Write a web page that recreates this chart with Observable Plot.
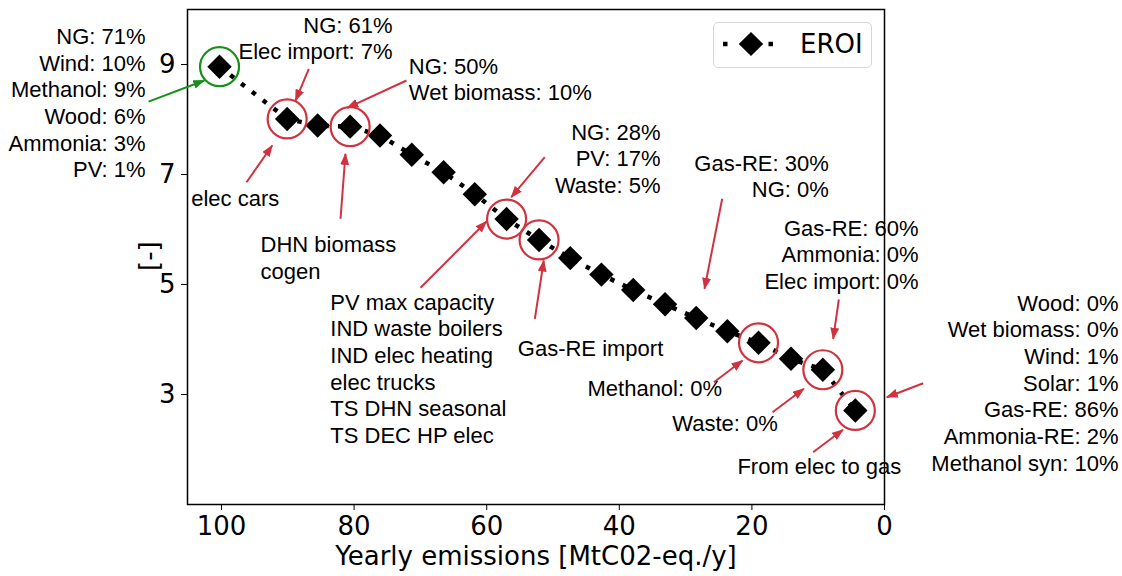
<!DOCTYPE html>
<html>
<head>
<meta charset="utf-8">
<script src="https://cdn.jsdelivr.net/npm/d3@7"></script>
<script src="https://cdn.jsdelivr.net/npm/@observablehq/plot@0.6"></script>
<style>
  html, body { margin: 0; padding: 0; background: #fff; overflow: hidden; }
  #chart { position: relative; width: 1122px; height: 576px; }
  .legend { position: absolute; left: 713px; top: 22px; width: 157px; height: 44px;
            border: 1px solid #d6d6d6; border-radius: 5px; background: rgba(255,255,255,0.85); }
  .legend svg { display: block; }
</style>
</head>
<body>
<div id="chart"></div>
<script>
// Yearly emissions (MtCO2-eq./y) and EROI for each optimisation step
const emissions = [100.3, 90.1, 85.5, 80.6, 76.1, 71.3, 66.5, 61.8, 57.0, 52.1,
                   47.4, 42.7, 37.9, 33.1, 28.4, 23.7, 19.0, 14.1, 9.3, 4.4];
const eroi = [8.96, 8.01, 7.89, 7.87, 7.71, 7.36, 7.04, 6.64, 6.19, 5.81,
              5.48, 5.18, 4.90, 4.64, 4.39, 4.15, 3.94, 3.65, 3.45, 2.71];

// Steps highlighted with a circle
const startStep = [0];
const highlightedSteps = [1, 3, 8, 9, 16, 18, 19];

// Axis ticks
const xTicks = [100, 80, 60, 40, 20, 0];
const yTicks = [3, 5, 7, 9];

// Annotation texts
const noteTexts = {
  start: "NG: 71%\nWind: 10%\nMethanol: 9%\nWood: 6%\nAmmonia: 3%\nPV: 1%",
  ng61: "NG: 61%\nElec import: 7%",
  ng50: "NG: 50%\nWet biomass: 10%",
  cars: "elec cars",
  dhn: "DHN biomass\ncogen",
  pvmax: "PV max capacity\nIND waste boilers\nIND elec heating\nelec trucks\nTS DHN seasonal\nTS DEC HP elec",
  ng28: "NG: 28%\nPV: 17%\nWaste: 5%",
  gasImport: "Gas-RE import",
  gas30: "Gas-RE: 30%\nNG: 0%",
  gas60: "Gas-RE: 60%\nAmmonia: 0%\nElec import: 0%",
  meth0: "Methanol: 0%",
  waste0: "Waste: 0%",
  elecGas: "From elec to gas",
  final: "Wood: 0%\nWet biomass: 0%\nWind: 1%\nSolar: 1%\nGas-RE: 86%\nAmmonia-RE: 2%\nMethanol syn: 10%"
};

// Annotation placement in data units (text anchor point and arrow tail/head)
const notesEnd = [
  {key: "start", x: 111.46, y: 8.315},
  {key: "ng61", x: 74.2, y: 9.491},
  {key: "ng28", x: 33.79, y: 7.304},
  {key: "gas30", x: 8.40, y: 6.982},
  {key: "gas60", x: -5.13, y: 5.558},
  {key: "final", x: -35.29, y: 3.224}
];
const notesStart = [
  {key: "ng50", x: 71.75, y: 8.749},
  {key: "cars", x: 104.57, y: 6.582},
  {key: "dhn", x: 94.12, y: 5.496},
  {key: "pvmax", x: 83.59, y: 3.485},
  {key: "gasImport", x: 55.31, y: 3.86},
  {key: "meth0", x: 44.80, y: 3.122},
  {key: "waste0", x: 32.02, y: 2.496},
  {key: "elecGas", x: 22.19, y: 1.709}
];
const greenArrows = [
  {x1: 111.0, y1: 8.325, x2: 102.6, y2: 8.71}
];
const redArrows = [
  {x1: 86.83, y1: 8.922, x2: 88.84, y2: 8.345},
  {x1: 72.1, y1: 8.709, x2: 81.04, y2: 8.213},
  {x1: 96.23, y1: 6.86, x2: 92.35, y2: 7.527},
  {x1: 82.05, y1: 6.195, x2: 81.3, y2: 7.376},
  {x1: 69.98, y1: 4.94, x2: 60.03, y2: 6.145},
  {x1: 51.24, y1: 7.315, x2: 56.30, y2: 6.587},
  {x1: 52.74, y1: 4.376, x2: 51.39, y2: 5.436},
  {x1: 24.48, y1: 6.558, x2: 27.15, y2: 4.922},
  {x1: 6.89, y1: 4.727, x2: 7.74, y2: 4.013},
  {x1: 25.73, y1: 3.224, x2: 21.42, y2: 3.618},
  {x1: 16.89, y1: 2.678, x2: 12.17, y2: 3.104},
  {x1: 10.77, y1: 1.951, x2: 6.27, y2: 2.358},
  {x1: -5.84, y1: 3.205, x2: -0.35, y2: 2.951}
];

const RED = "#d0333f";
const GREEN = "#16901a";
const noteFont = "'Liberation Sans', Arial, sans-serif";

const points = emissions.map((x, i) => ({x, y: eroi[i]}));
const withText = (list) => list.map((d) => ({...d, text: noteTexts[d.key]}));

const noteStyle = {
  x: "x", y: "y", text: "text",
  fontFamily: noteFont, fontSize: 22, lineHeight: 1.21, lineAnchor: "middle", fill: "black"
};

const chart = Plot.plot({
  width: 1122,
  height: 576,
  marginLeft: 187,
  marginRight: 238,
  marginTop: 9,
  marginBottom: 72,
  style: {fontFamily: "'DejaVu Sans', sans-serif", fontSize: "26px", color: "black", background: "white"},
  x: {domain: [105.13, 0]},
  y: {domain: [1, 10]},
  marks: [
    Plot.axisX({ticks: xTicks, tickSize: 6, tickPadding: 6, label: null, fontSize: 26, tickFormat: (d) => String(d)}),
    Plot.axisY({ticks: yTicks, tickSize: 6, tickPadding: 6, label: null, fontSize: 26, tickFormat: (d) => String(d)}),
    Plot.text(["Yearly emissions [MtC02-eq./y]"], {frameAnchor: "bottom", dy: 60, fontSize: 26}),
    Plot.text(["[-]"], {frameAnchor: "left", dx: -38, dy: 14, rotate: -90, fontSize: 26}),
    Plot.frame({stroke: "black", strokeWidth: 1.5}),
    Plot.line(points, {x: "x", y: "y", stroke: "black", strokeWidth: 4.5, strokeDasharray: "4.5,9.2", strokeLinecap: "butt"}),
    Plot.dot(points, {x: "x", y: "y", symbol: "diamond2", r: 11, fill: "black", stroke: "none"}),
    Plot.dot(startStep.map((i) => points[i]), {x: "x", y: "y", r: 19.5, fill: "none", stroke: GREEN, strokeWidth: 2.2}),
    Plot.dot(highlightedSteps.map((i) => points[i]), {x: "x", y: "y", r: 19.5, fill: "none", stroke: RED, strokeWidth: 2.2}),
    Plot.link(greenArrows, {x1: "x1", y1: "y1", x2: "x2", y2: "y2", stroke: GREEN, strokeWidth: 2, className: "arrow-green"}),
    Plot.link(redArrows, {x1: "x1", y1: "y1", x2: "x2", y2: "y2", stroke: RED, strokeWidth: 2, className: "arrow-red"}),
    Plot.text(withText(notesEnd), {...noteStyle, textAnchor: "end"}),
    Plot.text(withText(notesStart), {...noteStyle, textAnchor: "start"})
  ]
});

// Filled arrowheads for the annotation links
const svg = d3.select(chart);
const defs = svg.insert("defs", ":first-child");
[["head-red", RED], ["head-green", GREEN]].forEach(([id, color]) => {
  defs.append("marker")
    .attr("id", id)
    .attr("viewBox", "0 0 12 9")
    .attr("refX", 11)
    .attr("refY", 4.5)
    .attr("markerWidth", 12)
    .attr("markerHeight", 9)
    .attr("markerUnits", "userSpaceOnUse")
    .attr("orient", "auto")
    .append("path")
    .attr("d", "M0,0L12,4.5L0,9Z")
    .attr("fill", color);
});
svg.selectAll(".arrow-red path").attr("marker-end", "url(#head-red)");
svg.selectAll(".arrow-green path").attr("marker-end", "url(#head-green)");

const host = document.getElementById("chart");
host.appendChild(chart);

// Legend box
const legend = document.createElement("div");
legend.className = "legend";
legend.innerHTML = `
<svg width="157" height="44" xmlns="http://www.w3.org/2000/svg">
  <line x1="9" x2="59" y1="21" y2="21" stroke="black" stroke-width="4.5" stroke-dasharray="4.5,41"/>
  <path d="M37,9L49.2,21L37,33L24.8,21Z" fill="black"/>
  <text x="86" y="21" dy="0.36em" font-family="'DejaVu Sans', sans-serif" font-size="26" fill="black">EROI</text>
</svg>`;
host.appendChild(legend);
</script>
</body>
</html>
